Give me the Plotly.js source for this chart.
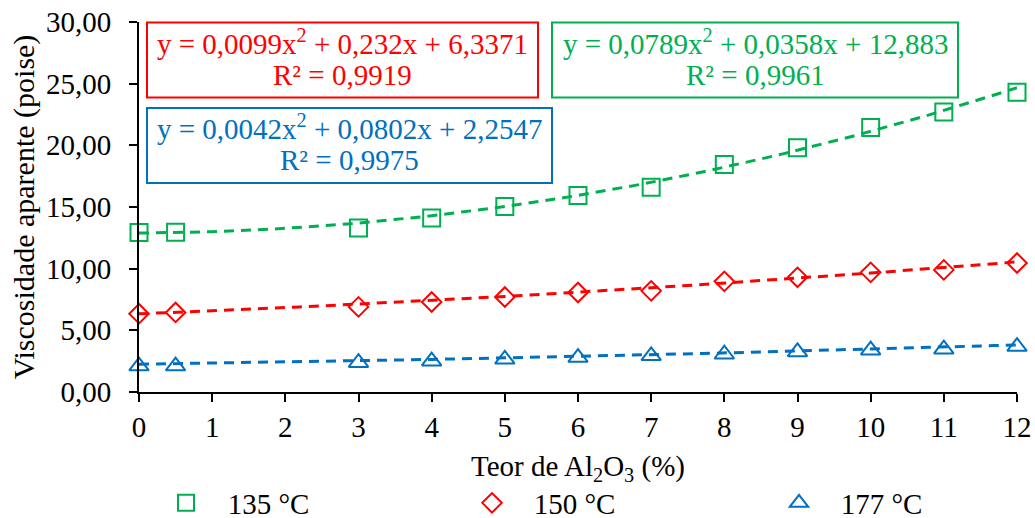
<!DOCTYPE html>
<html>
<head>
<meta charset="utf-8">
<script src="https://cdn.plot.ly/plotly-3.0.1.min.js"></script>
<style>html,body{margin:0;padding:0;background:#fff;}#chart{width:1035px;height:518px;}</style>
</head>
<body>
<div id="chart"></div>
<script>
// ---- data ----
const xValues = [0, 0.5, 3, 4, 5, 6, 7, 8, 9, 10, 11, 12];
const visc135 = [12.93, 12.95, 13.3, 14.1, 15.05, 15.93, 16.6, 18.45, 19.8, 21.45, 22.7, 24.3];
const visc150 = [6.35, 6.45, 6.9, 7.3, 7.7, 8.07, 8.2, 8.97, 9.3, 9.7, 9.9, 10.46];
const visc177 = [2.1, 2.1, 2.38, 2.5, 2.65, 2.79, 2.93, 3.06, 3.25, 3.39, 3.47, 3.68];
const seriesNames = ['135 °C', '150 °C', '177 °C'];
// trendline coefficients (a x² + b x + c) as printed in the chart
const coefA = [0.0789, 0.0099, 0.0042];
const coefB = [0.0358, 0.232, 0.0802];
const coefC = [12.883, 6.3371, 2.2547];
const eqTexts = [
  'y = 0,0789x<sup>2</sup> + 0,0358x + 12,883',
  'y = 0,0099x<sup>2</sup> + 0,232x + 6,3371',
  'y = 0,0042x<sup>2</sup> + 0,0802x + 2,2547'
];
const r2Texts = ['R² = 0,9961', 'R² = 0,9919', 'R² = 0,9975'];
const yTickVals = [0, 5, 10, 15, 20, 25, 30];
const xTickVals = [0, 1, 2, 3, 4, 5, 6, 7, 8, 9, 10, 11, 12];
const xTitle = 'Teor de Al<sub>2</sub>O<sub>3</sub> (%)';
const yTitle = 'Viscosidade aparente (poise)';

// ---- styles ----
const colors = ['#00B050', '#FF0000', '#0070C0'];
const symbols = ['square-open', 'diamond-open', 'triangle-up-open'];
const sizes = [17, 15, 17];
const FONT = '"Liberation Serif", "Times New Roman", serif';

const allY = [visc135, visc150, visc177];
const legendIds = ['legend', 'legend', 'legend2'];
const traces = [];
// trendlines
for (let i = 0; i < 3; i++) {
  const tx = [], ty = [];
  const xmin = Math.min(...xValues), xmax = Math.max(...xValues);
  for (let k = 0; k <= 120; k++) {
    const x = xmin + (xmax - xmin) * k / 120;
    tx.push(x);
    ty.push(coefA[i] * x * x + coefB[i] * x + coefC[i]);
  }
  traces.push({x: tx, y: ty, mode: 'lines', showlegend: false, hoverinfo: 'skip',
    line: {color: colors[i], width: 3, dash: '10px,7px'}, cliponaxis: false});
}
for (let i = 0; i < 3; i++) {
  traces.push({x: xValues, y: allY[i], mode: 'markers', name: '\u00a0\u00a0\u00a0' + seriesNames[i],
    legend: legendIds[i], cliponaxis: false,
    marker: {symbol: symbols[i], size: sizes[i], color: colors[i], line: {width: 2, color: colors[i]}}});
}

// layout helpers (pixel -> paper)
const ML = 139, MR = 18, MT = 22, MB = 126;
const PW = 1035 - ML - MR, PH = 518 - MT - MB;
const px = p => (p - ML) / PW;
const py = p => (518 - MB - p) / PH;

const boxes = [
  {x0: 552, x1: 958, y0: 22.5, y1: 97.5},     // green
  {x0: 147, x1: 538, y0: 22.5, y1: 97.5},     // red
  {x0: 147, x1: 552, y0: 108, y1: 183}        // blue
];
const shapes = boxes.map((b, i) => ({type: 'rect', xref: 'paper', yref: 'paper',
  x0: px(b.x0), x1: px(b.x1), y0: py(b.y1), y1: py(b.y0),
  line: {color: colors[i], width: 2}, fillcolor: 'rgba(0,0,0,0)', layer: 'above'}));
const annotations = [];
boxes.forEach((b, i) => {
  const cx = px((b.x0 + b.x1) / 2);
  const top = b.y0;
  annotations.push({xref: 'paper', yref: 'paper', x: cx, y: py(top + 19), xanchor: 'center', yanchor: 'middle',
    showarrow: false, text: eqTexts[i], font: {family: FONT, size: 29, color: colors[i]}});
  annotations.push({xref: 'paper', yref: 'paper', x: cx, y: py(top + 52), xanchor: 'center', yanchor: 'middle',
    showarrow: false, text: r2Texts[i], font: {family: FONT, size: 29, color: colors[i]}});
});
// x-axis title placed as an annotation for precise vertical position
annotations.push({xref: 'paper', yref: 'paper', x: 0.5, y: py(468), xanchor: 'center', yanchor: 'middle',
  showarrow: false, text: xTitle, font: {family: FONT, size: 29, color: '#000'}});

const legendCommon = {orientation: 'h', xref: 'container', yref: 'container', y: (518 - 503) / 518,
  xanchor: 'left', yanchor: 'middle',
  font: {family: FONT, size: 29, color: '#000'}, bgcolor: 'rgba(0,0,0,0)', borderwidth: 0, tracegroupgap: 0};

const layout = {
  width: 1035, height: 518,
  margin: {l: ML, r: MR, t: MT, b: MB, pad: 0},
  paper_bgcolor: '#fff', plot_bgcolor: '#fff',
  separators: ',.',
  font: {family: FONT, size: 29, color: '#000'},
  showlegend: true,
  xaxis: {range: [0, 12], tickvals: xTickVals, ticks: 'outside', ticklen: 8, tickwidth: 2, tickcolor: '#000',
    showline: true, linewidth: 2, linecolor: '#000', showgrid: false, zeroline: false,
    tickfont: {family: FONT, size: 29, color: '#000'}},
  yaxis: {range: [0, 30], tickvals: yTickVals, tickformat: '.2f', ticks: 'outside', ticklen: 8, tickwidth: 2, tickcolor: '#000',
    showline: true, linewidth: 2, linecolor: '#000', showgrid: false, zeroline: false, ticklabelstandoff: 12,
    tickfont: {family: FONT, size: 29, color: '#000'},
    title: {text: yTitle, font: {family: FONT, size: 30, color: '#000'}, standoff: 2}},
  legend: Object.assign({}, legendCommon, {x: 166 / 1035, entrywidth: 261, entrywidthmode: 'pixels'}),
  legend2: Object.assign({}, legendCommon, {x: 779 / 1035}),
  shapes: shapes,
  annotations: annotations
};

Plotly.newPlot('chart', traces, layout, {displayModeBar: false, staticPlot: true});
</script>
</body>
</html>
